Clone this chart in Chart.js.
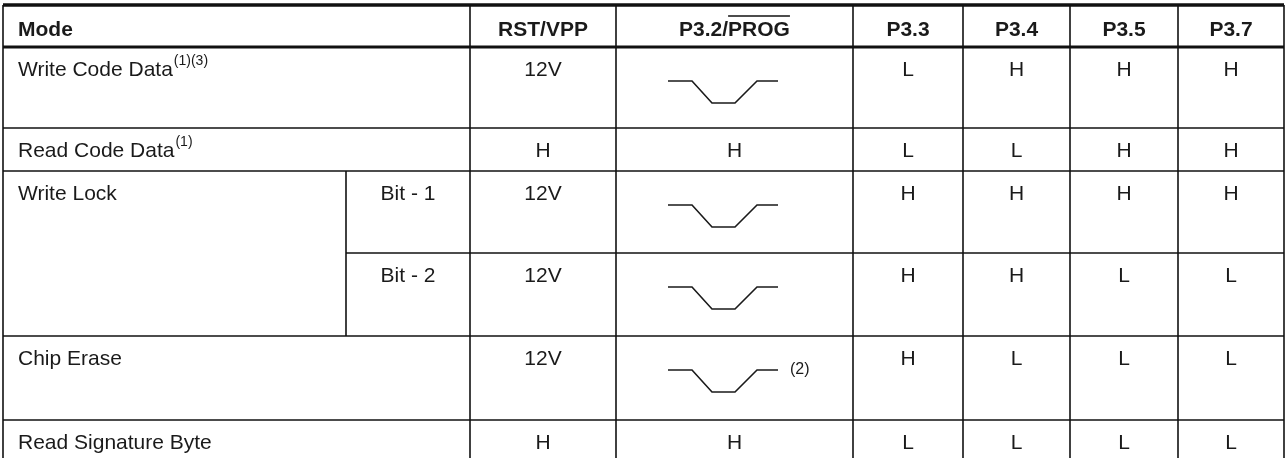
<!DOCTYPE html>
<html>
<head>
<meta charset="utf-8">
<script src="https://cdn.jsdelivr.net/npm/chart.js@4.4.0/dist/chart.umd.min.js"></script>
<style>
  html, body { margin: 0; padding: 0; background: #fff; }
  #wrap { width: 1287px; height: 458px; position: relative; }
</style>
</head>
<body>
<div id="wrap"><canvas id="modeTable"></canvas></div>
<script>
// table data (one entry per row)
const headers = ['Mode', '', 'RST/VPP', 'P3.2/PROG', 'P3.3', 'P3.4', 'P3.5', 'P3.7'];
const modes = ['Write Code Data', 'Read Code Data', 'Write Lock', '', 'Chip Erase', 'Read Signature Byte'];
const modeNotes = ['(1)(3)', '(1)', '', '', '', ''];
const lockBits = ['', '', 'Bit - 1', 'Bit - 2', '', ''];
const rstVpp = ['12V', 'H', '12V', '12V', '12V', 'H'];
const prog = ['pulse', 'H', 'pulse', 'pulse', 'pulse', 'H'];
const progNotes = ['', '', '', '', '(2)', ''];
const p33 = ['L', 'L', 'H', 'H', 'H', 'L'];
const p34 = ['H', 'L', 'H', 'H', 'L', 'L'];
const p35 = ['H', 'H', 'H', 'L', 'L', 'L'];
const p37 = ['H', 'H', 'H', 'L', 'L', 'L'];
// PROG pulse shape: time steps and logic level
const pulseTime = [0, 24, 44, 67, 89, 110];
const pulseLevel = [1, 1, 0, 0, 1, 1];

// layout (pixels)
const colX = [3, 346, 470, 616, 853, 963, 1070, 1178, 1284];
const rowY = [5, 47, 128, 171, 253, 336, 420, 462];
const FONT = '"Liberation Sans", Arial, sans-serif';
const INK = '#1a1a1a';

// one line dataset per pulse cell
const datasets = [];
prog.forEach((v, i) => {
  if (v !== 'pulse') return;
  const top = rowY[i + 1];
  datasets.push({
    data: pulseTime.map((t, k) => ({ x: colX[3] + 52 + t, y: top + (pulseLevel[k] ? 34 : 56) })),
    borderColor: INK,
    borderWidth: 1.6,
    pointRadius: 0,
    tension: 0,
    fill: false
  });
});

const tablePlugin = {
  id: 'tablePlugin',
  afterDraw(chart) {
    const { ctx, scales: { x, y } } = chart;
    const px = v => x.getPixelForValue(v);
    const py = v => y.getPixelForValue(v);
    ctx.save();
    ctx.strokeStyle = '#111';
    ctx.lineCap = 'butt';
    const seg = (x1, y1, x2, y2, w) => {
      ctx.lineWidth = w;
      ctx.beginPath();
      ctx.moveTo(px(x1), py(y1));
      ctx.lineTo(px(x2), py(y2));
      ctx.stroke();
    };
    const bottom = 458;
    // horizontal rules
    seg(colX[0], rowY[0], colX[8], rowY[0], 3.5);
    seg(colX[0], rowY[1], colX[8], rowY[1], 3);
    [2, 3, 5, 6].forEach(r => seg(colX[0], rowY[r], colX[8], rowY[r], 1.6));
    seg(colX[1], rowY[4], colX[8], rowY[4], 1.6);
    // vertical rules
    [0, 2, 3, 4, 5, 6, 7, 8].forEach(c => seg(colX[c], rowY[0], colX[c], bottom, 1.6));
    seg(colX[1], rowY[3], colX[1], rowY[5], 1.6);

    const mid = c => px((colX[c] + colX[c + 1]) / 2);
    const text = (s, xx, yy, font, align) => {
      ctx.font = font;
      ctx.textAlign = align || 'center';
      ctx.textBaseline = 'alphabetic';
      ctx.fillStyle = INK;
      ctx.fillText(s, xx, yy);
    };
    // header
    const hFont = 'bold 21px ' + FONT;
    const hBase = py(36);
    text(headers[0], px(18), hBase, hFont, 'left');
    [2, 4, 5, 6, 7].forEach(c => text(headers[c], mid(c), hBase, hFont));
    // P3.2/PROG with overline over PROG
    ctx.font = hFont;
    const [pre, sig] = headers[3].split('/');
    const wPre = ctx.measureText(pre + '/').width;
    const wSig = ctx.measureText(sig).width;
    const left = mid(3) - (wPre + wSig) / 2;
    text(pre + '/', left, hBase, hFont, 'left');
    text(sig, left + wPre, hBase, hFont, 'left');
    ctx.lineWidth = 1.5;
    ctx.beginPath();
    ctx.moveTo(left + wPre, py(16));
    ctx.lineTo(left + wPre + wSig, py(16));
    ctx.stroke();

    // body
    const bFont = '21px ' + FONT;
    const cols = [rstVpp, prog, p33, p34, p35, p37];
    modes.forEach((m, i) => {
      const top = rowY[i + 1];
      const base = py(top + 29);
      if (m) {
        text(m, px(18), base, bFont, 'left');
        ctx.font = bFont;
        const w = ctx.measureText(m).width;
        if (modeNotes[i]) text(modeNotes[i], px(18) + w + 1, py(top + 18), '14px ' + FONT, 'left');
      }
      if (lockBits[i]) text(lockBits[i], mid(1), base, bFont);
      cols.forEach((vals, k) => {
        if (vals[i] !== 'pulse') text(vals[i], mid(k + 2), base, bFont);
      });
      if (progNotes[i]) text(progNotes[i], px(790), py(top + 38), '16px ' + FONT, 'left');
    });
    ctx.restore();
  }
};

new Chart(document.getElementById('modeTable'), {
  type: 'line',
  data: { datasets },
  options: {
    responsive: true,
    maintainAspectRatio: false,
    animation: false,
    devicePixelRatio: 1,
    layout: { padding: 0 },
    plugins: { legend: { display: false }, tooltip: { enabled: false } },
    scales: {
      x: { type: 'linear', min: 0, max: 1287, display: false },
      y: { type: 'linear', min: 0, max: 458, reverse: true, display: false }
    }
  },
  plugins: [tablePlugin]
});
</script>
</body>
</html>
